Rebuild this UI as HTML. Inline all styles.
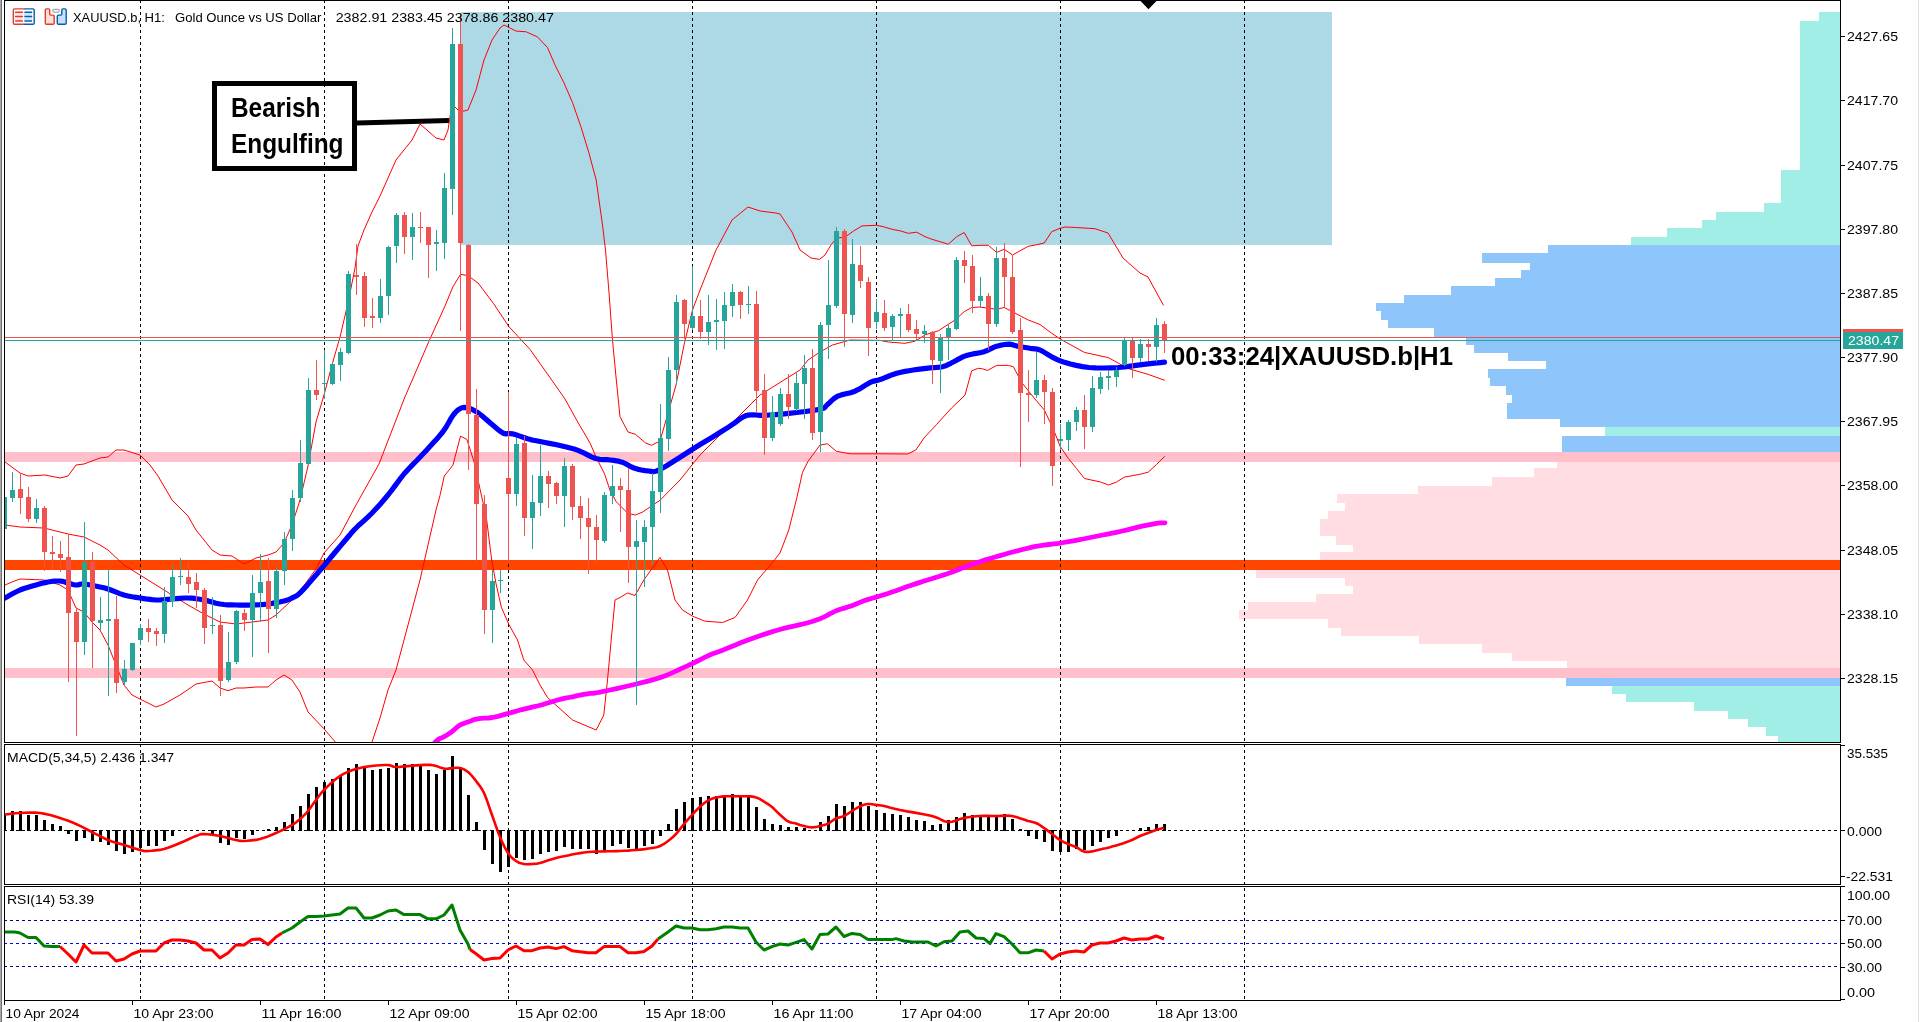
<!DOCTYPE html>
<html><head><meta charset="utf-8"><title>XAUUSD.b H1</title>
<style>html,body{margin:0;padding:0;background:#fff;overflow:hidden;width:1919px;height:1022px}</style>
</head><body><svg width="1919" height="1022" viewBox="0 0 1919 1022" style="display:block;will-change:transform;font-family:'Liberation Sans', sans-serif"><rect x="0" y="0" width="1919" height="1022" fill="#fff" />
<rect x="0" y="0" width="1" height="1022" fill="#a8a8a8" />
<rect x="1" y="0" width="1" height="1022" fill="#6e6e6e" />
<rect x="1918" y="0" width="1" height="1022" fill="#e0e0e0" />
<defs><clipPath id="cm"><rect x="5" y="1" width="1835" height="741"/></clipPath><clipPath id="cmacd"><rect x="5" y="745" width="1835" height="139"/></clipPath><clipPath id="crsi"><rect x="5" y="887" width="1835" height="113"/></clipPath></defs>
<rect x="461" y="12" width="871" height="233" fill="#add8e6" />
<rect x="1819" y="12" width="21" height="233" fill="#a0eee6" />
<rect x="1800" y="21" width="40" height="224" fill="#a0eee6" />
<rect x="1781" y="170" width="59" height="75" fill="#a0eee6" />
<rect x="1764" y="203" width="76" height="42" fill="#a0eee6" />
<rect x="1716" y="212" width="124" height="33" fill="#a0eee6" />
<rect x="1702" y="220" width="138" height="25" fill="#a0eee6" />
<rect x="1667" y="228" width="173" height="17" fill="#a0eee6" />
<rect x="1631" y="237" width="209" height="8" fill="#a0eee6" />
<rect x="1548" y="245" width="292" height="8" fill="#8ec6fc" />
<rect x="1482" y="253" width="358" height="10" fill="#8ec6fc" />
<rect x="1530" y="263" width="310" height="7" fill="#8ec6fc" />
<rect x="1521" y="270" width="319" height="8" fill="#8ec6fc" />
<rect x="1495" y="278" width="345" height="8" fill="#8ec6fc" />
<rect x="1451" y="286" width="389" height="9" fill="#8ec6fc" />
<rect x="1404" y="295" width="436" height="8" fill="#8ec6fc" />
<rect x="1376" y="303" width="464" height="8" fill="#8ec6fc" />
<rect x="1381" y="311" width="459" height="9" fill="#8ec6fc" />
<rect x="1388" y="320" width="452" height="8" fill="#8ec6fc" />
<rect x="1434" y="328" width="406" height="9" fill="#8ec6fc" />
<rect x="1466" y="337" width="374" height="8" fill="#8ec6fc" />
<rect x="1474" y="345" width="366" height="8" fill="#8ec6fc" />
<rect x="1508" y="353" width="332" height="8" fill="#8ec6fc" />
<rect x="1546" y="361" width="294" height="8" fill="#8ec6fc" />
<rect x="1488" y="369" width="352" height="9" fill="#8ec6fc" />
<rect x="1490" y="378" width="350" height="8" fill="#8ec6fc" />
<rect x="1506" y="386" width="334" height="9" fill="#8ec6fc" />
<rect x="1512" y="395" width="328" height="8" fill="#8ec6fc" />
<rect x="1507" y="403" width="333" height="16" fill="#8ec6fc" />
<rect x="1560" y="419" width="280" height="8" fill="#8ec6fc" />
<rect x="1605" y="427" width="235" height="9" fill="#a0eee6" />
<rect x="1562" y="436" width="278" height="16" fill="#8ec6fc" />
<rect x="1560" y="452" width="280" height="9" fill="#ffdde3" />
<rect x="1557" y="461" width="283" height="7" fill="#ffdde3" />
<rect x="1534" y="468" width="306" height="9" fill="#ffdde3" />
<rect x="1492" y="477" width="348" height="9" fill="#ffdde3" />
<rect x="1418" y="486" width="422" height="8" fill="#ffdde3" />
<rect x="1337" y="494" width="503" height="9" fill="#ffdde3" />
<rect x="1345" y="503" width="495" height="8" fill="#ffdde3" />
<rect x="1328" y="511" width="512" height="8" fill="#ffdde3" />
<rect x="1320" y="519" width="520" height="17" fill="#ffdde3" />
<rect x="1336" y="536" width="504" height="9" fill="#ffdde3" />
<rect x="1353" y="545" width="487" height="7" fill="#ffdde3" />
<rect x="1320" y="552" width="520" height="8" fill="#ffdde3" />
<rect x="1320" y="560" width="520" height="10" fill="#ffdde3" />
<rect x="1256" y="570" width="584" height="8" fill="#ffdde3" />
<rect x="1345" y="578" width="495" height="8" fill="#ffdde3" />
<rect x="1353" y="586" width="487" height="8" fill="#ffdde3" />
<rect x="1316" y="594" width="524" height="8" fill="#ffdde3" />
<rect x="1248" y="602" width="592" height="8" fill="#ffdde3" />
<rect x="1239" y="610" width="601" height="9" fill="#ffdde3" />
<rect x="1328" y="619" width="512" height="9" fill="#ffdde3" />
<rect x="1341" y="628" width="499" height="8" fill="#ffdde3" />
<rect x="1419" y="636" width="421" height="8" fill="#ffdde3" />
<rect x="1482" y="644" width="358" height="9" fill="#ffdde3" />
<rect x="1512" y="653" width="328" height="8" fill="#ffdde3" />
<rect x="1567" y="661" width="273" height="7" fill="#ffdde3" />
<rect x="1566" y="668" width="274" height="10" fill="#ffdde3" />
<rect x="1566" y="678" width="274" height="8" fill="#8ec6fc" />
<rect x="1612" y="686" width="228" height="8" fill="#a0eee6" />
<rect x="1626" y="694" width="214" height="8" fill="#a0eee6" />
<rect x="1694" y="702" width="146" height="9" fill="#a0eee6" />
<rect x="1728" y="711" width="112" height="8" fill="#a0eee6" />
<rect x="1748" y="719" width="92" height="8" fill="#a0eee6" />
<rect x="1766" y="727" width="74" height="9" fill="#a0eee6" />
<rect x="1778" y="736" width="62" height="6" fill="#a0eee6" />
<rect x="4" y="452" width="1836" height="10" fill="#ffc0cb" />
<rect x="4" y="668" width="1836" height="10" fill="#ffc0cb" />
<rect x="4" y="560" width="1836" height="10" fill="#ff4500" />
<clipPath id="cgrid"><rect x="0" y="1" width="1919" height="741"/><rect x="0" y="745" width="1919" height="139"/><rect x="0" y="887" width="1919" height="113"/></clipPath>
<g clip-path="url(#cgrid)">
<line x1="140.5" y1="0" x2="140.5" y2="1002" stroke="#000" stroke-width="1" stroke-dasharray="3 3" shape-rendering="crispEdges"/>
<line x1="324.5" y1="0" x2="324.5" y2="1002" stroke="#000" stroke-width="1" stroke-dasharray="3 3" shape-rendering="crispEdges"/>
<line x1="508.5" y1="0" x2="508.5" y2="1002" stroke="#000" stroke-width="1" stroke-dasharray="3 3" shape-rendering="crispEdges"/>
<line x1="692.5" y1="0" x2="692.5" y2="1002" stroke="#000" stroke-width="1" stroke-dasharray="3 3" shape-rendering="crispEdges"/>
<line x1="876.5" y1="0" x2="876.5" y2="1002" stroke="#000" stroke-width="1" stroke-dasharray="3 3" shape-rendering="crispEdges"/>
<line x1="1060.5" y1="0" x2="1060.5" y2="1002" stroke="#000" stroke-width="1" stroke-dasharray="3 3" shape-rendering="crispEdges"/>
<line x1="1244.5" y1="0" x2="1244.5" y2="1002" stroke="#000" stroke-width="1" stroke-dasharray="3 3" shape-rendering="crispEdges"/>
</g>
<g clip-path="url(#cm)" fill="none" stroke-linejoin="round" stroke-linecap="round">
<polyline points="5.0,462.0 20.0,473.0 28.0,476.0 45.0,475.0 60.0,478.0 68.0,476.0 76.0,465.0 84.0,464.0 100.0,458.0 108.0,457.0 116.0,450.0 124.0,450.0 140.0,455.0 150.0,465.0 158.0,476.0 172.0,500.0 188.0,516.0 196.0,530.0 212.0,550.0 220.0,555.0 232.0,556.0 244.0,564.0 256.0,558.0 268.0,555.0 276.0,552.0 284.0,543.0 292.0,525.0 300.0,500.0 308.0,466.0 316.0,422.0 324.0,395.0 332.0,365.0 340.0,337.0 348.0,303.0 355.0,268.0 358.0,246.0 364.0,230.0 372.0,212.0 380.0,196.0 388.0,178.0 396.0,160.0 404.0,150.0 412.0,140.0 420.0,124.0 428.0,131.0 436.0,138.0 444.0,140.0 448.0,130.0 452.0,104.0 460.0,112.0 468.0,110.0 476.0,90.0 484.0,60.0 492.0,40.0 500.0,28.0 504.0,25.0 508.0,27.0 516.0,31.0 526.2,31.8 537.5,37.0 547.5,47.5 555.0,65.0 563.8,82.5 572.5,102.5 581.2,127.5 588.8,152.5 596.2,180.0 602.5,225.0 605.5,250.0 608.8,290.0 612.5,340.0 616.3,380.0 620.0,416.7 628.0,432.0 635.4,434.3 645.6,443.0 651.5,445.3 660.0,441.0 667.5,415.0 676.0,385.0 684.0,345.0 692.5,310.0 700.0,290.0 716.0,250.0 732.0,220.0 748.0,207.0 760.0,211.0 776.0,213.0 780.0,214.0 792.0,232.0 800.0,250.0 811.0,258.0 819.4,259.4 825.0,255.0 830.8,245.2 836.5,238.0 845.0,237.2 853.5,231.0 862.0,225.9 876.2,225.3 883.3,226.7 891.7,229.2 900.0,230.8 908.3,233.3 916.7,232.2 925.0,236.7 931.7,239.2 940.0,241.7 948.3,244.2 956.7,236.7 964.2,232.5 971.7,245.8 980.0,245.3 988.3,245.3 996.7,252.5 1004.2,249.2 1012.5,255.0 1020.0,250.8 1028.3,246.3 1036.7,244.7 1044.2,243.0 1051.7,231.7 1060.0,228.3 1065.0,227.0 1076.7,227.5 1088.3,228.3 1095.0,228.7 1108.0,233.0 1123.0,258.0 1140.0,273.0 1148.0,277.0 1163.3,305.0" stroke="#ff0000" stroke-width="1"/>
<polyline points="5.0,525.0 20.0,527.0 44.0,528.0 68.0,534.0 84.0,537.0 100.0,545.0 108.0,550.0 124.0,565.0 140.0,575.0 156.0,585.0 172.0,595.0 188.0,605.0 204.0,614.0 220.0,622.0 236.0,624.0 252.0,622.0 268.0,620.0 276.0,615.0 292.0,600.0 300.0,591.0 316.0,569.0 324.0,553.0 340.0,535.0 356.0,505.0 379.0,464.0 404.5,398.0 428.7,341.8 445.0,306.0 452.8,287.0 460.5,274.4 468.0,275.6 478.0,283.0 493.6,303.6 508.8,326.5 530.0,349.4 551.7,380.0 565.0,399.0 578.0,422.5 590.0,443.0 597.0,459.0 604.6,474.0 610.4,491.5 616.3,501.8 628.0,513.5 635.4,515.0 642.7,512.0 651.5,506.0 660.0,500.3 680.0,480.0 700.0,455.0 720.0,435.0 740.0,415.0 760.0,395.0 776.0,385.0 800.0,370.0 808.0,360.0 820.0,352.0 832.5,345.0 850.0,340.0 880.0,340.4 888.3,342.0 905.0,343.3 915.0,341.2 925.8,334.6 938.3,330.8 955.0,320.0 964.2,311.7 971.7,307.5 980.0,307.0 988.3,308.3 996.7,309.2 1004.2,307.5 1012.5,311.7 1020.0,315.8 1028.3,320.0 1040.0,324.5 1051.7,333.3 1060.4,339.1 1084.4,352.4 1108.5,357.7 1128.0,368.5 1148.2,374.4 1164.5,380.2" stroke="#ff0000" stroke-width="1"/>
<polyline points="5.0,585.0 12.0,582.0 20.0,579.0 44.0,580.0 60.0,585.0 68.0,590.0 76.0,608.0 84.0,612.0 92.0,622.0 100.0,630.0 108.0,645.0 116.0,665.0 124.0,685.0 132.0,695.0 140.0,699.0 156.0,707.0 164.0,704.0 180.0,695.0 196.0,684.0 212.0,681.0 220.0,688.0 228.0,690.7 236.0,688.0 244.0,688.0 256.0,687.0 268.0,687.0 276.0,680.0 284.0,675.0 292.0,680.0 300.0,692.0 308.0,712.0 323.5,728.3 335.3,742.0 350.0,760.0 365.0,760.0 372.0,742.0 380.0,718.0 388.0,690.0 396.0,670.0 404.0,640.0 412.0,610.0 420.0,580.0 428.0,545.0 436.0,510.0 440.0,495.3 444.3,476.0 452.9,465.2 460.5,436.1 466.9,439.4 474.4,463.0 480.9,493.2 486.3,516.9 491.7,560.0 496.0,583.6 501.4,607.3 508.9,624.5 517.5,640.0 523.8,660.0 532.5,670.0 540.0,685.0 547.5,697.5 572.5,720.0 596.2,730.0 603.8,715.0 607.5,680.0 611.2,640.0 615.0,600.0 620.0,597.5 627.5,593.0 635.0,595.5 643.8,580.0 660.0,557.5 667.5,570.0 675.0,600.0 682.5,610.0 692.5,616.2 705.0,621.2 722.5,622.5 735.0,617.5 747.5,600.0 757.5,580.0 772.5,562.5 780.0,553.0 788.8,529.9 797.0,497.0 802.5,472.3 808.0,461.4 820.0,445.0 827.5,443.8 836.2,451.2 850.0,453.8 880.0,453.8 907.6,454.0 915.8,450.0 924.0,438.0 936.4,424.7 951.5,408.0 960.0,400.0 965.0,395.0 971.7,370.8 978.3,368.3 982.5,368.8 987.5,370.4 996.7,365.4 1008.3,365.4 1013.3,366.7 1021.7,382.5 1035.8,400.0 1044.3,410.0 1052.5,427.2 1060.4,446.8 1068.4,458.5 1076.4,468.3 1084.4,478.5 1100.5,482.0 1108.5,485.0 1116.5,482.0 1124.5,477.1 1140.4,474.2 1148.2,472.2 1156.6,464.4 1164.5,456.6" stroke="#ff0000" stroke-width="1"/>
<polyline points="420.0,760.0 423.1,756.3 427.6,750.9 432.3,745.4 436.2,741.2 439.0,739.0 441.2,737.9 443.1,737.2 445.0,736.2 447.0,735.0 448.8,733.8 450.7,732.6 452.5,731.2 454.3,729.7 456.1,728.0 457.9,726.4 460.0,725.0 462.4,723.9 465.0,722.9 467.6,722.0 470.0,721.2 471.9,720.5 473.4,719.8 475.2,719.3 477.5,718.8 480.7,718.4 484.5,718.2 488.5,718.0 492.5,717.5 496.5,716.7 500.5,715.6 504.7,714.4 508.8,713.2 512.8,712.1 516.9,711.0 520.9,709.8 525.0,708.8 529.1,707.8 533.1,706.9 537.2,706.0 541.2,705.0 545.3,703.8 549.5,702.5 553.5,701.2 557.5,700.0 561.3,699.1 565.1,698.2 568.8,697.5 572.5,696.8 576.3,695.9 580.2,695.1 583.9,694.4 587.5,693.8 590.2,693.4 592.4,693.3 595.3,693.0 600.0,692.2 607.8,690.5 617.7,688.3 627.9,686.0 636.4,684.0 642.7,682.4 647.9,681.1 652.4,679.9 656.4,678.7 659.9,677.6 662.6,676.7 665.2,675.8 668.1,674.6 671.5,673.1 675.2,671.4 678.9,669.7 682.2,668.1 685.0,666.9 687.4,665.9 689.8,664.8 692.8,663.4 696.5,661.5 700.8,659.3 705.1,657.1 709.2,655.2 712.6,653.8 715.7,652.7 719.1,651.5 723.3,649.9 728.6,647.7 734.8,645.2 741.3,642.5 748.0,639.9 754.9,637.4 762.2,634.9 769.4,632.6 776.2,630.5 782.7,628.7 789.1,627.2 795.0,625.9 800.0,624.7 803.9,623.7 806.9,623.0 809.5,622.3 812.2,621.5 815.1,620.5 817.9,619.5 820.8,618.4 823.7,617.1 826.7,615.6 829.7,613.9 832.9,612.3 836.3,610.7 840.2,609.3 844.4,608.1 848.5,606.8 852.3,605.6 855.5,604.3 858.3,603.1 861.0,601.9 863.8,600.8 866.6,599.9 869.3,599.1 872.1,598.3 875.3,597.4 879.0,596.3 883.0,595.0 887.2,593.7 891.3,592.3 895.3,590.9 899.3,589.5 903.4,588.0 907.4,586.6 911.4,585.2 915.4,583.9 919.4,582.6 923.4,581.3 927.5,580.0 931.6,578.8 935.6,577.5 939.5,576.3 943.1,575.1 946.6,574.0 950.0,572.8 953.2,571.7 956.1,570.6 958.8,569.5 961.6,568.3 964.7,567.1 968.3,565.8 972.2,564.3 976.4,562.9 980.7,561.4 985.3,559.9 990.1,558.5 995.1,557.0 1000.0,555.6 1004.9,554.2 1009.8,552.8 1014.7,551.5 1019.6,550.2 1024.5,549.0 1029.3,547.8 1034.2,546.7 1039.1,545.8 1044.0,545.1 1048.9,544.5 1053.8,543.9 1058.7,543.3 1063.6,542.5 1068.5,541.7 1073.4,540.8 1078.3,539.9 1083.2,539.0 1088.0,538.0 1092.9,537.0 1097.8,536.0 1102.7,535.0 1107.6,534.1 1112.5,533.1 1117.4,532.1 1122.3,531.0 1127.2,529.8 1132.1,528.6 1137.0,527.4 1142.2,526.2 1147.5,525.1 1152.5,524.1 1156.6,523.3 1159.7,522.9 1162.0,522.8 1163.8,522.8 1165.0,522.8" stroke="#ff00ff" stroke-width="4.8"/>
<polyline points="5.0,598.0 7.7,596.5 11.5,594.3 15.8,592.0 20.0,590.0 24.0,588.5 28.2,587.2 32.3,586.0 36.0,585.0 39.3,584.1 42.2,583.2 45.1,582.6 48.0,582.0 51.1,581.5 54.2,581.2 57.3,581.0 60.0,581.0 62.3,581.3 64.2,581.8 66.1,582.4 68.0,583.0 70.0,583.6 72.0,584.2 74.0,584.7 76.0,585.0 77.8,584.9 79.5,584.4 81.4,584.0 84.0,584.0 87.6,584.5 92.0,585.3 96.4,586.2 100.0,587.0 102.4,587.5 104.0,587.8 105.6,588.2 108.0,589.0 111.4,590.3 115.5,591.9 119.8,593.6 124.0,595.0 128.0,596.0 132.0,596.8 136.0,597.4 140.0,598.0 144.0,598.6 148.0,599.2 152.0,599.7 156.0,600.0 160.0,600.0 164.0,599.7 168.0,599.3 172.0,599.0 176.0,598.7 180.0,598.3 184.0,598.0 188.0,598.0 192.0,598.2 196.0,598.7 200.0,599.3 204.0,600.0 208.0,600.9 212.0,602.1 216.0,603.2 220.0,604.0 224.0,604.5 228.0,604.8 232.0,604.9 236.0,605.0 240.0,605.1 244.0,605.1 248.0,605.1 252.0,605.0 256.0,604.9 260.0,604.7 264.0,604.4 268.0,604.0 272.2,603.4 276.5,602.6 280.6,601.8 284.0,601.0 286.6,600.3 288.5,599.6 290.2,598.9 292.0,598.0 293.8,597.2 295.5,596.4 297.4,595.2 300.0,593.0 303.4,589.4 307.5,584.9 311.8,579.9 316.0,575.0 320.0,570.3 324.0,565.6 328.0,560.8 332.0,556.0 336.2,551.0 340.5,545.9 344.6,541.0 348.0,537.0 350.4,534.2 352.0,532.2 353.6,530.4 356.0,528.0 359.4,524.7 363.5,521.1 367.8,517.1 372.0,513.0 376.0,508.8 380.0,504.4 384.0,499.8 388.0,495.0 392.0,489.9 395.9,484.6 399.9,479.2 404.0,474.0 408.3,469.2 412.7,464.6 417.3,460.0 422.0,455.0 427.2,449.4 432.8,443.3 438.2,437.4 442.7,432.0 446.0,427.2 448.6,422.8 450.7,418.9 452.8,415.6 454.9,413.0 456.8,411.0 458.6,409.5 460.5,408.4 462.3,407.7 464.1,407.4 465.9,407.6 468.0,408.0 470.3,408.7 472.7,409.7 475.3,411.1 478.3,413.0 481.9,415.8 486.0,419.2 490.0,422.8 493.6,425.8 496.5,428.2 499.1,430.4 501.4,432.1 503.7,433.4 505.8,433.9 507.8,433.7 509.9,433.5 512.5,433.8 515.9,434.7 519.8,436.1 523.8,437.5 527.5,438.8 530.6,439.6 533.3,440.2 536.3,440.7 540.0,441.5 545.0,442.5 550.8,443.6 556.7,444.8 562.0,446.0 566.4,447.0 570.3,448.0 574.1,449.0 578.1,450.4 582.5,452.3 587.0,454.6 591.5,456.9 595.7,458.5 599.6,459.3 603.4,459.6 607.0,459.7 610.4,460.0 613.6,460.4 616.5,460.8 619.3,461.4 622.2,462.2 625.1,463.5 627.9,465.0 630.8,466.7 633.9,468.0 637.4,469.1 641.3,470.0 645.1,470.6 648.6,471.0 651.2,471.4 653.2,471.7 655.7,471.3 660.0,469.5 666.6,465.7 674.9,460.5 684.0,454.7 692.9,449.0 702.1,443.3 711.9,437.4 721.1,431.7 728.5,427.1 733.6,423.7 737.1,421.1 739.7,419.1 742.2,417.5 744.5,416.3 746.3,415.5 748.1,415.1 750.4,414.8 753.2,414.8 756.2,415.0 759.7,415.3 764.0,415.3 769.3,415.0 775.3,414.6 781.9,414.1 788.8,413.4 796.7,412.5 805.5,411.5 813.7,410.4 820.0,409.3 823.5,408.2 825.1,407.2 826.0,406.0 827.5,404.5 829.6,402.6 831.9,400.4 834.4,398.2 837.5,396.2 841.4,394.9 845.9,393.8 850.6,392.7 855.0,391.2 859.0,389.2 863.0,386.7 866.7,384.4 870.0,382.5 872.7,381.4 874.9,380.9 877.1,380.4 880.0,379.6 883.7,378.2 887.9,376.5 892.4,374.7 896.7,373.3 900.9,372.2 905.0,371.4 909.1,370.7 913.3,370.0 917.6,369.4 921.9,368.8 926.1,368.3 930.0,367.9 933.5,367.6 936.8,367.4 939.8,367.1 942.5,366.7 944.8,366.1 946.6,365.3 948.5,364.4 950.8,363.3 953.7,361.8 957.0,359.9 960.4,358.1 963.3,356.7 965.6,355.8 967.5,355.2 969.4,354.7 971.7,354.2 974.5,353.6 977.7,353.1 981.0,352.5 984.2,351.7 987.3,350.5 990.5,348.9 993.6,347.4 996.7,346.2 999.9,345.4 1003.2,344.8 1006.4,344.3 1009.2,344.2 1011.5,344.4 1013.4,345.0 1015.2,345.6 1017.5,346.2 1020.4,346.8 1023.6,347.3 1027.0,347.8 1030.0,348.3 1032.6,348.6 1035.0,348.9 1037.4,349.2 1040.0,350.0 1042.8,351.4 1045.6,353.1 1048.6,355.0 1051.7,356.8 1054.8,358.3 1057.8,359.8 1061.2,361.2 1065.4,362.6 1070.4,364.0 1076.2,365.4 1082.4,366.6 1088.9,367.5 1096.0,367.9 1103.6,368.0 1111.2,367.8 1118.3,367.5 1124.6,367.0 1130.5,366.2 1136.1,365.4 1141.8,364.6 1148.1,363.9 1154.6,363.2 1160.4,362.6 1164.5,362.2" stroke="#0000ff" stroke-width="5.2"/>
</g>
<g clip-path="url(#cm)" shape-rendering="crispEdges">
<rect x="4" y="497" width="1" height="33" fill="#26a69a" />
<rect x="2" y="497" width="5" height="32" fill="#26a69a" />
<rect x="12" y="472" width="1" height="30" fill="#26a69a" />
<rect x="10" y="490" width="5" height="8" fill="#26a69a" />
<rect x="20" y="474" width="1" height="40" fill="#ef5350" />
<rect x="18" y="489" width="5" height="9" fill="#ef5350" />
<rect x="28" y="487" width="1" height="35" fill="#ef5350" />
<rect x="26" y="497" width="5" height="22" fill="#ef5350" />
<rect x="36" y="499" width="1" height="24" fill="#26a69a" />
<rect x="34" y="508" width="5" height="11" fill="#26a69a" />
<rect x="44" y="506" width="1" height="65" fill="#ef5350" />
<rect x="42" y="508" width="5" height="44" fill="#ef5350" />
<rect x="52" y="536" width="1" height="34" fill="#ef5350" />
<rect x="50" y="552" width="5" height="2" fill="#ef5350" />
<rect x="60" y="541" width="1" height="31" fill="#ef5350" />
<rect x="58" y="554" width="5" height="4" fill="#ef5350" />
<rect x="68" y="534" width="1" height="148" fill="#ef5350" />
<rect x="66" y="557" width="5" height="56" fill="#ef5350" />
<rect x="76" y="608" width="1" height="128" fill="#ef5350" />
<rect x="74" y="612" width="5" height="30" fill="#ef5350" />
<rect x="84" y="522" width="1" height="133" fill="#26a69a" />
<rect x="82" y="562" width="5" height="80" fill="#26a69a" />
<rect x="92" y="552" width="1" height="116" fill="#ef5350" />
<rect x="90" y="562" width="5" height="59" fill="#ef5350" />
<rect x="100" y="597" width="1" height="33" fill="#26a69a" />
<rect x="98" y="620" width="5" height="3" fill="#26a69a" />
<rect x="108" y="569" width="1" height="127" fill="#26a69a" />
<rect x="106" y="619" width="5" height="2" fill="#26a69a" />
<rect x="116" y="596" width="1" height="97" fill="#ef5350" />
<rect x="114" y="619" width="5" height="64" fill="#ef5350" />
<rect x="124" y="660" width="1" height="26" fill="#26a69a" />
<rect x="122" y="669" width="5" height="13" fill="#26a69a" />
<rect x="132" y="643" width="1" height="28" fill="#26a69a" />
<rect x="130" y="643" width="5" height="27" fill="#26a69a" />
<rect x="140" y="624" width="1" height="21" fill="#26a69a" />
<rect x="138" y="628" width="5" height="12" fill="#26a69a" />
<rect x="148" y="619" width="1" height="23" fill="#ef5350" />
<rect x="146" y="628" width="5" height="4" fill="#ef5350" />
<rect x="156" y="628" width="1" height="18" fill="#ef5350" />
<rect x="154" y="631" width="5" height="3" fill="#ef5350" />
<rect x="164" y="587" width="1" height="56" fill="#26a69a" />
<rect x="162" y="601" width="5" height="33" fill="#26a69a" />
<rect x="172" y="565" width="1" height="42" fill="#26a69a" />
<rect x="170" y="577" width="5" height="24" fill="#26a69a" />
<rect x="180" y="558" width="1" height="27" fill="#26a69a" />
<rect x="178" y="576" width="5" height="1" fill="#26a69a" />
<rect x="188" y="563" width="1" height="30" fill="#ef5350" />
<rect x="186" y="577" width="5" height="7" fill="#ef5350" />
<rect x="196" y="573" width="1" height="35" fill="#ef5350" />
<rect x="194" y="582" width="5" height="8" fill="#ef5350" />
<rect x="204" y="588" width="1" height="56" fill="#ef5350" />
<rect x="202" y="590" width="5" height="38" fill="#ef5350" />
<rect x="212" y="597" width="1" height="37" fill="#26a69a" />
<rect x="210" y="625" width="5" height="1" fill="#26a69a" />
<rect x="220" y="615" width="1" height="81" fill="#ef5350" />
<rect x="218" y="625" width="5" height="56" fill="#ef5350" />
<rect x="228" y="632" width="1" height="50" fill="#26a69a" />
<rect x="226" y="662" width="5" height="18" fill="#26a69a" />
<rect x="236" y="610" width="1" height="54" fill="#26a69a" />
<rect x="234" y="611" width="5" height="51" fill="#26a69a" />
<rect x="244" y="609" width="1" height="22" fill="#ef5350" />
<rect x="242" y="613" width="5" height="7" fill="#ef5350" />
<rect x="252" y="575" width="1" height="82" fill="#26a69a" />
<rect x="250" y="593" width="5" height="27" fill="#26a69a" />
<rect x="260" y="554" width="1" height="68" fill="#26a69a" />
<rect x="258" y="582" width="5" height="11" fill="#26a69a" />
<rect x="268" y="558" width="1" height="95" fill="#ef5350" />
<rect x="266" y="581" width="5" height="28" fill="#ef5350" />
<rect x="276" y="567" width="1" height="51" fill="#26a69a" />
<rect x="274" y="571" width="5" height="38" fill="#26a69a" />
<rect x="284" y="532" width="1" height="53" fill="#26a69a" />
<rect x="282" y="539" width="5" height="32" fill="#26a69a" />
<rect x="292" y="490" width="1" height="61" fill="#26a69a" />
<rect x="290" y="498" width="5" height="41" fill="#26a69a" />
<rect x="300" y="440" width="1" height="62" fill="#26a69a" />
<rect x="298" y="463" width="5" height="35" fill="#26a69a" />
<rect x="308" y="378" width="1" height="87" fill="#26a69a" />
<rect x="306" y="390" width="5" height="74" fill="#26a69a" />
<rect x="316" y="360" width="1" height="40" fill="#ef5350" />
<rect x="314" y="390" width="5" height="5" fill="#ef5350" />
<rect x="324" y="350" width="1" height="49" fill="#26a69a" />
<rect x="322" y="383" width="5" height="1" fill="#26a69a" />
<rect x="332" y="363" width="1" height="22" fill="#26a69a" />
<rect x="330" y="364" width="5" height="20" fill="#26a69a" />
<rect x="340" y="348" width="1" height="33" fill="#26a69a" />
<rect x="338" y="352" width="5" height="13" fill="#26a69a" />
<rect x="348" y="271" width="1" height="83" fill="#26a69a" />
<rect x="346" y="274" width="5" height="79" fill="#26a69a" />
<rect x="356" y="244" width="1" height="51" fill="#ef5350" />
<rect x="354" y="275" width="5" height="2" fill="#ef5350" />
<rect x="364" y="272" width="1" height="55" fill="#ef5350" />
<rect x="362" y="276" width="5" height="42" fill="#ef5350" />
<rect x="372" y="298" width="1" height="30" fill="#ef5350" />
<rect x="370" y="316" width="5" height="2" fill="#ef5350" />
<rect x="380" y="279" width="1" height="44" fill="#26a69a" />
<rect x="378" y="296" width="5" height="22" fill="#26a69a" />
<rect x="388" y="246" width="1" height="69" fill="#26a69a" />
<rect x="386" y="247" width="5" height="49" fill="#26a69a" />
<rect x="396" y="213" width="1" height="50" fill="#26a69a" />
<rect x="394" y="215" width="5" height="31" fill="#26a69a" />
<rect x="404" y="212" width="1" height="42" fill="#ef5350" />
<rect x="402" y="215" width="5" height="22" fill="#ef5350" />
<rect x="412" y="213" width="1" height="47" fill="#26a69a" />
<rect x="410" y="227" width="5" height="10" fill="#26a69a" />
<rect x="420" y="212" width="1" height="31" fill="#ef5350" />
<rect x="418" y="227" width="5" height="1" fill="#ef5350" />
<rect x="428" y="227" width="1" height="51" fill="#ef5350" />
<rect x="426" y="227" width="5" height="18" fill="#ef5350" />
<rect x="436" y="230" width="1" height="41" fill="#26a69a" />
<rect x="434" y="242" width="5" height="2" fill="#26a69a" />
<rect x="444" y="173" width="1" height="86" fill="#26a69a" />
<rect x="442" y="188" width="5" height="55" fill="#26a69a" />
<rect x="452" y="28" width="1" height="187" fill="#26a69a" />
<rect x="450" y="44" width="5" height="145" fill="#26a69a" />
<rect x="460" y="13" width="1" height="318" fill="#ef5350" />
<rect x="458" y="44" width="5" height="199" fill="#ef5350" />
<rect x="468" y="244" width="1" height="226" fill="#ef5350" />
<rect x="466" y="245" width="5" height="169" fill="#ef5350" />
<rect x="476" y="389" width="1" height="173" fill="#ef5350" />
<rect x="474" y="415" width="5" height="89" fill="#ef5350" />
<rect x="484" y="495" width="1" height="139" fill="#ef5350" />
<rect x="482" y="504" width="5" height="106" fill="#ef5350" />
<rect x="492" y="570" width="1" height="73" fill="#26a69a" />
<rect x="490" y="581" width="5" height="29" fill="#26a69a" />
<rect x="500" y="570" width="1" height="23" fill="#26a69a" />
<rect x="498" y="580" width="5" height="1" fill="#26a69a" />
<rect x="508" y="392" width="1" height="169" fill="#ef5350" />
<rect x="506" y="478" width="5" height="16" fill="#ef5350" />
<rect x="516" y="438" width="1" height="68" fill="#26a69a" />
<rect x="514" y="444" width="5" height="50" fill="#26a69a" />
<rect x="524" y="436" width="1" height="100" fill="#ef5350" />
<rect x="522" y="443" width="5" height="75" fill="#ef5350" />
<rect x="532" y="475" width="1" height="74" fill="#26a69a" />
<rect x="530" y="502" width="5" height="16" fill="#26a69a" />
<rect x="540" y="445" width="1" height="71" fill="#26a69a" />
<rect x="538" y="476" width="5" height="27" fill="#26a69a" />
<rect x="548" y="471" width="1" height="37" fill="#ef5350" />
<rect x="546" y="476" width="5" height="8" fill="#ef5350" />
<rect x="556" y="482" width="1" height="22" fill="#ef5350" />
<rect x="554" y="483" width="5" height="13" fill="#ef5350" />
<rect x="564" y="458" width="1" height="69" fill="#26a69a" />
<rect x="562" y="466" width="5" height="30" fill="#26a69a" />
<rect x="572" y="464" width="1" height="56" fill="#ef5350" />
<rect x="570" y="466" width="5" height="41" fill="#ef5350" />
<rect x="580" y="496" width="1" height="43" fill="#ef5350" />
<rect x="578" y="506" width="5" height="12" fill="#ef5350" />
<rect x="588" y="498" width="1" height="76" fill="#ef5350" />
<rect x="586" y="518" width="5" height="9" fill="#ef5350" />
<rect x="596" y="515" width="1" height="48" fill="#ef5350" />
<rect x="594" y="527" width="5" height="13" fill="#ef5350" />
<rect x="604" y="492" width="1" height="51" fill="#26a69a" />
<rect x="602" y="495" width="5" height="46" fill="#26a69a" />
<rect x="612" y="465" width="1" height="39" fill="#26a69a" />
<rect x="610" y="486" width="5" height="10" fill="#26a69a" />
<rect x="620" y="478" width="1" height="54" fill="#ef5350" />
<rect x="618" y="486" width="5" height="4" fill="#ef5350" />
<rect x="628" y="468" width="1" height="115" fill="#ef5350" />
<rect x="626" y="490" width="5" height="57" fill="#ef5350" />
<rect x="636" y="520" width="1" height="185" fill="#26a69a" />
<rect x="634" y="541" width="5" height="6" fill="#26a69a" />
<rect x="644" y="520" width="1" height="67" fill="#26a69a" />
<rect x="642" y="527" width="5" height="15" fill="#26a69a" />
<rect x="652" y="473" width="1" height="92" fill="#26a69a" />
<rect x="650" y="491" width="5" height="36" fill="#26a69a" />
<rect x="660" y="404" width="1" height="109" fill="#26a69a" />
<rect x="658" y="438" width="5" height="54" fill="#26a69a" />
<rect x="668" y="357" width="1" height="94" fill="#26a69a" />
<rect x="666" y="370" width="5" height="69" fill="#26a69a" />
<rect x="676" y="295" width="1" height="90" fill="#26a69a" />
<rect x="674" y="302" width="5" height="68" fill="#26a69a" />
<rect x="684" y="299" width="1" height="40" fill="#ef5350" />
<rect x="682" y="300" width="5" height="24" fill="#ef5350" />
<rect x="692" y="266" width="1" height="64" fill="#26a69a" />
<rect x="690" y="316" width="5" height="12" fill="#26a69a" />
<rect x="700" y="300" width="1" height="39" fill="#ef5350" />
<rect x="698" y="316" width="5" height="16" fill="#ef5350" />
<rect x="708" y="295" width="1" height="50" fill="#26a69a" />
<rect x="706" y="322" width="5" height="10" fill="#26a69a" />
<rect x="716" y="299" width="1" height="51" fill="#26a69a" />
<rect x="714" y="320" width="5" height="2" fill="#26a69a" />
<rect x="724" y="292" width="1" height="57" fill="#26a69a" />
<rect x="722" y="305" width="5" height="16" fill="#26a69a" />
<rect x="732" y="284" width="1" height="33" fill="#26a69a" />
<rect x="730" y="292" width="5" height="14" fill="#26a69a" />
<rect x="740" y="291" width="1" height="28" fill="#ef5350" />
<rect x="738" y="292" width="5" height="13" fill="#ef5350" />
<rect x="748" y="286" width="1" height="28" fill="#26a69a" />
<rect x="746" y="304" width="5" height="1" fill="#26a69a" />
<rect x="756" y="291" width="1" height="122" fill="#ef5350" />
<rect x="754" y="304" width="5" height="87" fill="#ef5350" />
<rect x="764" y="374" width="1" height="81" fill="#ef5350" />
<rect x="762" y="390" width="5" height="48" fill="#ef5350" />
<rect x="772" y="396" width="1" height="45" fill="#26a69a" />
<rect x="770" y="412" width="5" height="26" fill="#26a69a" />
<rect x="780" y="388" width="1" height="38" fill="#26a69a" />
<rect x="778" y="394" width="5" height="30" fill="#26a69a" />
<rect x="788" y="374" width="1" height="45" fill="#ef5350" />
<rect x="786" y="394" width="5" height="13" fill="#ef5350" />
<rect x="796" y="373" width="1" height="38" fill="#26a69a" />
<rect x="794" y="383" width="5" height="26" fill="#26a69a" />
<rect x="804" y="355" width="1" height="64" fill="#26a69a" />
<rect x="802" y="368" width="5" height="16" fill="#26a69a" />
<rect x="812" y="349" width="1" height="91" fill="#ef5350" />
<rect x="810" y="368" width="5" height="65" fill="#ef5350" />
<rect x="820" y="322" width="1" height="130" fill="#26a69a" />
<rect x="818" y="325" width="5" height="107" fill="#26a69a" />
<rect x="828" y="260" width="1" height="99" fill="#26a69a" />
<rect x="826" y="305" width="5" height="20" fill="#26a69a" />
<rect x="836" y="227" width="1" height="81" fill="#26a69a" />
<rect x="834" y="231" width="5" height="75" fill="#26a69a" />
<rect x="844" y="229" width="1" height="118" fill="#ef5350" />
<rect x="842" y="231" width="5" height="83" fill="#ef5350" />
<rect x="852" y="239" width="1" height="84" fill="#26a69a" />
<rect x="850" y="264" width="5" height="51" fill="#26a69a" />
<rect x="860" y="246" width="1" height="42" fill="#ef5350" />
<rect x="858" y="265" width="5" height="16" fill="#ef5350" />
<rect x="868" y="277" width="1" height="79" fill="#ef5350" />
<rect x="866" y="282" width="5" height="46" fill="#ef5350" />
<rect x="876" y="299" width="1" height="30" fill="#26a69a" />
<rect x="874" y="312" width="5" height="10" fill="#26a69a" />
<rect x="884" y="300" width="1" height="31" fill="#ef5350" />
<rect x="882" y="313" width="5" height="15" fill="#ef5350" />
<rect x="892" y="314" width="1" height="27" fill="#26a69a" />
<rect x="890" y="316" width="5" height="11" fill="#26a69a" />
<rect x="900" y="308" width="1" height="30" fill="#26a69a" />
<rect x="898" y="314" width="5" height="2" fill="#26a69a" />
<rect x="908" y="304" width="1" height="28" fill="#ef5350" />
<rect x="906" y="314" width="5" height="16" fill="#ef5350" />
<rect x="916" y="320" width="1" height="21" fill="#ef5350" />
<rect x="914" y="329" width="5" height="5" fill="#ef5350" />
<rect x="924" y="325" width="1" height="18" fill="#26a69a" />
<rect x="922" y="331" width="5" height="3" fill="#26a69a" />
<rect x="932" y="331" width="1" height="53" fill="#ef5350" />
<rect x="930" y="332" width="5" height="28" fill="#ef5350" />
<rect x="940" y="334" width="1" height="59" fill="#26a69a" />
<rect x="938" y="337" width="5" height="24" fill="#26a69a" />
<rect x="948" y="325" width="1" height="35" fill="#26a69a" />
<rect x="946" y="328" width="5" height="9" fill="#26a69a" />
<rect x="956" y="257" width="1" height="73" fill="#26a69a" />
<rect x="954" y="260" width="5" height="69" fill="#26a69a" />
<rect x="964" y="251" width="1" height="32" fill="#ef5350" />
<rect x="962" y="260" width="5" height="6" fill="#ef5350" />
<rect x="972" y="255" width="1" height="58" fill="#ef5350" />
<rect x="970" y="266" width="5" height="35" fill="#ef5350" />
<rect x="980" y="277" width="1" height="31" fill="#26a69a" />
<rect x="978" y="296" width="5" height="5" fill="#26a69a" />
<rect x="988" y="293" width="1" height="57" fill="#ef5350" />
<rect x="986" y="296" width="5" height="28" fill="#ef5350" />
<rect x="996" y="247" width="1" height="80" fill="#26a69a" />
<rect x="994" y="258" width="5" height="66" fill="#26a69a" />
<rect x="1004" y="243" width="1" height="64" fill="#ef5350" />
<rect x="1002" y="258" width="5" height="19" fill="#ef5350" />
<rect x="1012" y="255" width="1" height="79" fill="#ef5350" />
<rect x="1010" y="277" width="5" height="55" fill="#ef5350" />
<rect x="1020" y="318" width="1" height="149" fill="#ef5350" />
<rect x="1018" y="330" width="5" height="63" fill="#ef5350" />
<rect x="1028" y="370" width="1" height="52" fill="#ef5350" />
<rect x="1026" y="393" width="5" height="2" fill="#ef5350" />
<rect x="1036" y="352" width="1" height="46" fill="#26a69a" />
<rect x="1034" y="380" width="5" height="15" fill="#26a69a" />
<rect x="1044" y="375" width="1" height="49" fill="#ef5350" />
<rect x="1042" y="380" width="5" height="12" fill="#ef5350" />
<rect x="1052" y="388" width="1" height="98" fill="#ef5350" />
<rect x="1050" y="392" width="5" height="74" fill="#ef5350" />
<rect x="1060" y="424" width="1" height="26" fill="#26a69a" />
<rect x="1058" y="439" width="5" height="2" fill="#26a69a" />
<rect x="1068" y="420" width="1" height="31" fill="#26a69a" />
<rect x="1066" y="422" width="5" height="18" fill="#26a69a" />
<rect x="1076" y="407" width="1" height="24" fill="#26a69a" />
<rect x="1074" y="410" width="5" height="12" fill="#26a69a" />
<rect x="1084" y="395" width="1" height="54" fill="#ef5350" />
<rect x="1082" y="410" width="5" height="17" fill="#ef5350" />
<rect x="1092" y="376" width="1" height="56" fill="#26a69a" />
<rect x="1090" y="388" width="5" height="39" fill="#26a69a" />
<rect x="1100" y="372" width="1" height="22" fill="#26a69a" />
<rect x="1098" y="377" width="5" height="12" fill="#26a69a" />
<rect x="1108" y="370" width="1" height="20" fill="#26a69a" />
<rect x="1106" y="376" width="5" height="2" fill="#26a69a" />
<rect x="1116" y="367" width="1" height="20" fill="#26a69a" />
<rect x="1114" y="370" width="5" height="7" fill="#26a69a" />
<rect x="1124" y="338" width="1" height="28" fill="#26a69a" />
<rect x="1122" y="340" width="5" height="25" fill="#26a69a" />
<rect x="1132" y="338" width="1" height="40" fill="#ef5350" />
<rect x="1130" y="340" width="5" height="18" fill="#ef5350" />
<rect x="1140" y="339" width="1" height="23" fill="#26a69a" />
<rect x="1138" y="344" width="5" height="14" fill="#26a69a" />
<rect x="1148" y="339" width="1" height="22" fill="#ef5350" />
<rect x="1146" y="344" width="5" height="3" fill="#ef5350" />
<rect x="1156" y="318" width="1" height="44" fill="#26a69a" />
<rect x="1154" y="325" width="5" height="22" fill="#26a69a" />
<rect x="1164" y="321" width="1" height="32" fill="#ef5350" />
<rect x="1162" y="324" width="5" height="17" fill="#ef5350" />
</g>
<rect x="5" y="337" width="1835" height="1" fill="#ef5350" />
<rect x="5" y="340" width="1835" height="1" fill="#26a69a" />
<rect x="212" y="81" width="145" height="5" fill="#000" />
<rect x="212" y="166" width="145" height="5" fill="#000" />
<rect x="212" y="81" width="5" height="90" fill="#000" />
<rect x="352" y="81" width="5" height="90" fill="#000" />
<polyline points="357,123.1 449,120.4" stroke="#000" stroke-width="5" fill="none"/>
<text x="231" y="117.4" font-size="27" fill="#000" font-weight="700" text-anchor="start" textLength="89.5" lengthAdjust="spacingAndGlyphs" >Bearish</text>
<text x="231" y="152.9" font-size="27" fill="#000" font-weight="700" text-anchor="start" textLength="112.5" lengthAdjust="spacingAndGlyphs" >Engulfing</text>
<text x="1171" y="364.5" font-size="25.5" fill="#000" font-weight="700" text-anchor="start" textLength="282" lengthAdjust="spacingAndGlyphs" >00:33:24|XAUUSD.b|H1</text>
<polygon points="1140.5,1 1156.5,1 1148.5,9.3" fill="#000"/>
<g clip-path="url(#cmacd)">
<line x1="4" y1="830.5" x2="1840" y2="830.5" stroke="#000" stroke-width="1" stroke-dasharray="3 3" shape-rendering="crispEdges"/>
<g shape-rendering="crispEdges">
<rect x="3" y="814" width="3" height="17" fill="#000" />
<rect x="11" y="811" width="3" height="20" fill="#000" />
<rect x="19" y="811" width="3" height="20" fill="#000" />
<rect x="27" y="815" width="3" height="16" fill="#000" />
<rect x="35" y="815" width="3" height="16" fill="#000" />
<rect x="43" y="820" width="3" height="11" fill="#000" />
<rect x="51" y="824" width="3" height="7" fill="#000" />
<rect x="59" y="826" width="3" height="5" fill="#000" />
<rect x="67" y="830" width="3" height="4" fill="#000" />
<rect x="75" y="830" width="3" height="11" fill="#000" />
<rect x="83" y="830" width="3" height="8" fill="#000" />
<rect x="91" y="830" width="3" height="11" fill="#000" />
<rect x="99" y="830" width="3" height="12" fill="#000" />
<rect x="107" y="830" width="3" height="15" fill="#000" />
<rect x="115" y="830" width="3" height="21" fill="#000" />
<rect x="123" y="830" width="3" height="24" fill="#000" />
<rect x="131" y="830" width="3" height="22" fill="#000" />
<rect x="139" y="830" width="3" height="18" fill="#000" />
<rect x="147" y="830" width="3" height="16" fill="#000" />
<rect x="155" y="830" width="3" height="16" fill="#000" />
<rect x="163" y="830" width="3" height="11" fill="#000" />
<rect x="171" y="830" width="3" height="6" fill="#000" />
<rect x="211" y="830" width="3" height="6" fill="#000" />
<rect x="219" y="830" width="3" height="13" fill="#000" />
<rect x="227" y="830" width="3" height="15" fill="#000" />
<rect x="235" y="830" width="3" height="8" fill="#000" />
<rect x="243" y="830" width="3" height="9" fill="#000" />
<rect x="251" y="830" width="3" height="5" fill="#000" />
<rect x="267" y="829" width="3" height="2" fill="#000" />
<rect x="275" y="827" width="3" height="4" fill="#000" />
<rect x="283" y="822" width="3" height="9" fill="#000" />
<rect x="291" y="814" width="3" height="17" fill="#000" />
<rect x="299" y="806" width="3" height="25" fill="#000" />
<rect x="307" y="794" width="3" height="37" fill="#000" />
<rect x="315" y="787" width="3" height="44" fill="#000" />
<rect x="323" y="782" width="3" height="49" fill="#000" />
<rect x="331" y="779" width="3" height="52" fill="#000" />
<rect x="339" y="776" width="3" height="55" fill="#000" />
<rect x="347" y="768" width="3" height="63" fill="#000" />
<rect x="355" y="764" width="3" height="67" fill="#000" />
<rect x="363" y="766" width="3" height="65" fill="#000" />
<rect x="371" y="770" width="3" height="61" fill="#000" />
<rect x="379" y="769" width="3" height="62" fill="#000" />
<rect x="387" y="768" width="3" height="63" fill="#000" />
<rect x="395" y="763" width="3" height="68" fill="#000" />
<rect x="403" y="764" width="3" height="67" fill="#000" />
<rect x="411" y="764" width="3" height="67" fill="#000" />
<rect x="419" y="766" width="3" height="65" fill="#000" />
<rect x="427" y="770" width="3" height="61" fill="#000" />
<rect x="435" y="774" width="3" height="57" fill="#000" />
<rect x="443" y="770" width="3" height="61" fill="#000" />
<rect x="451" y="756" width="3" height="75" fill="#000" />
<rect x="459" y="769" width="3" height="62" fill="#000" />
<rect x="467" y="795" width="3" height="36" fill="#000" />
<rect x="475" y="822" width="3" height="9" fill="#000" />
<rect x="483" y="830" width="3" height="20" fill="#000" />
<rect x="491" y="830" width="3" height="34" fill="#000" />
<rect x="499" y="830" width="3" height="42" fill="#000" />
<rect x="507" y="830" width="3" height="37" fill="#000" />
<rect x="515" y="830" width="3" height="28" fill="#000" />
<rect x="523" y="830" width="3" height="30" fill="#000" />
<rect x="531" y="830" width="3" height="29" fill="#000" />
<rect x="539" y="830" width="3" height="24" fill="#000" />
<rect x="547" y="830" width="3" height="22" fill="#000" />
<rect x="555" y="830" width="3" height="21" fill="#000" />
<rect x="563" y="830" width="3" height="17" fill="#000" />
<rect x="571" y="830" width="3" height="19" fill="#000" />
<rect x="579" y="830" width="3" height="19" fill="#000" />
<rect x="587" y="830" width="3" height="19" fill="#000" />
<rect x="595" y="830" width="3" height="24" fill="#000" />
<rect x="603" y="830" width="3" height="21" fill="#000" />
<rect x="611" y="830" width="3" height="16" fill="#000" />
<rect x="619" y="830" width="3" height="14" fill="#000" />
<rect x="627" y="830" width="3" height="18" fill="#000" />
<rect x="635" y="830" width="3" height="20" fill="#000" />
<rect x="643" y="830" width="3" height="16" fill="#000" />
<rect x="651" y="830" width="3" height="14" fill="#000" />
<rect x="659" y="830" width="3" height="6" fill="#000" />
<rect x="667" y="824" width="3" height="7" fill="#000" />
<rect x="675" y="809" width="3" height="22" fill="#000" />
<rect x="683" y="802" width="3" height="29" fill="#000" />
<rect x="691" y="798" width="3" height="33" fill="#000" />
<rect x="699" y="797" width="3" height="34" fill="#000" />
<rect x="707" y="796" width="3" height="35" fill="#000" />
<rect x="715" y="796" width="3" height="35" fill="#000" />
<rect x="723" y="795" width="3" height="36" fill="#000" />
<rect x="731" y="794" width="3" height="37" fill="#000" />
<rect x="739" y="796" width="3" height="35" fill="#000" />
<rect x="747" y="796" width="3" height="35" fill="#000" />
<rect x="755" y="807" width="3" height="24" fill="#000" />
<rect x="763" y="819" width="3" height="12" fill="#000" />
<rect x="771" y="824" width="3" height="7" fill="#000" />
<rect x="779" y="825" width="3" height="6" fill="#000" />
<rect x="787" y="827" width="3" height="4" fill="#000" />
<rect x="795" y="827" width="3" height="4" fill="#000" />
<rect x="803" y="828" width="3" height="3" fill="#000" />
<rect x="819" y="822" width="3" height="9" fill="#000" />
<rect x="827" y="816" width="3" height="15" fill="#000" />
<rect x="835" y="804" width="3" height="27" fill="#000" />
<rect x="843" y="806" width="3" height="25" fill="#000" />
<rect x="851" y="802" width="3" height="29" fill="#000" />
<rect x="859" y="802" width="3" height="29" fill="#000" />
<rect x="867" y="806" width="3" height="25" fill="#000" />
<rect x="875" y="810" width="3" height="21" fill="#000" />
<rect x="883" y="813" width="3" height="18" fill="#000" />
<rect x="891" y="814" width="3" height="17" fill="#000" />
<rect x="899" y="815" width="3" height="16" fill="#000" />
<rect x="907" y="817" width="3" height="14" fill="#000" />
<rect x="915" y="820" width="3" height="11" fill="#000" />
<rect x="923" y="821" width="3" height="10" fill="#000" />
<rect x="931" y="825" width="3" height="6" fill="#000" />
<rect x="939" y="824" width="3" height="7" fill="#000" />
<rect x="947" y="820" width="3" height="11" fill="#000" />
<rect x="955" y="817" width="3" height="14" fill="#000" />
<rect x="963" y="813" width="3" height="18" fill="#000" />
<rect x="971" y="815" width="3" height="16" fill="#000" />
<rect x="979" y="817" width="3" height="14" fill="#000" />
<rect x="987" y="817" width="3" height="14" fill="#000" />
<rect x="995" y="816" width="3" height="15" fill="#000" />
<rect x="1003" y="814" width="3" height="17" fill="#000" />
<rect x="1011" y="819" width="3" height="12" fill="#000" />
<rect x="1019" y="829" width="3" height="2" fill="#000" />
<rect x="1027" y="830" width="3" height="6" fill="#000" />
<rect x="1035" y="830" width="3" height="9" fill="#000" />
<rect x="1043" y="830" width="3" height="12" fill="#000" />
<rect x="1051" y="830" width="3" height="21" fill="#000" />
<rect x="1059" y="830" width="3" height="22" fill="#000" />
<rect x="1067" y="830" width="3" height="22" fill="#000" />
<rect x="1075" y="830" width="3" height="19" fill="#000" />
<rect x="1083" y="830" width="3" height="20" fill="#000" />
<rect x="1091" y="830" width="3" height="16" fill="#000" />
<rect x="1099" y="830" width="3" height="12" fill="#000" />
<rect x="1107" y="830" width="3" height="8" fill="#000" />
<rect x="1115" y="830" width="3" height="6" fill="#000" />
<rect x="1139" y="828" width="3" height="3" fill="#000" />
<rect x="1147" y="827" width="3" height="4" fill="#000" />
<rect x="1155" y="824" width="3" height="7" fill="#000" />
<rect x="1163" y="824" width="3" height="7" fill="#000" />
</g>
<polyline points="5.0,814.5 7.6,814.2 11.2,813.8 15.5,813.3 20.0,813.0 24.6,812.8 29.7,812.6 34.9,812.6 40.0,813.0 45.1,813.9 50.2,815.1 55.3,816.6 60.0,818.0 64.3,819.4 68.2,820.8 72.1,822.3 76.0,824.0 80.0,825.9 84.0,827.9 88.0,830.0 92.0,832.0 96.0,834.1 100.0,836.2 104.0,838.2 108.0,840.0 112.0,841.5 116.0,842.7 120.0,843.8 124.0,845.0 128.2,846.3 132.5,847.8 136.6,849.0 140.0,850.0 142.4,850.6 144.0,850.9 145.6,851.1 148.0,851.0 151.4,850.8 155.5,850.4 159.8,849.9 164.0,849.0 168.0,847.8 172.0,846.3 176.0,844.7 180.0,843.0 184.2,841.2 188.5,839.2 192.6,837.4 196.0,836.0 198.4,835.1 200.0,834.4 201.6,834.1 204.0,834.0 207.4,834.2 211.5,834.6 215.8,835.3 220.0,836.0 224.2,836.9 228.5,838.1 232.6,839.2 236.0,840.0 238.4,840.5 240.0,840.9 241.6,841.0 244.0,841.0 247.4,840.8 251.5,840.4 255.8,839.9 260.0,839.0 264.0,837.8 268.0,836.4 272.0,834.7 276.0,833.0 280.2,831.1 284.5,829.0 288.6,826.9 292.0,825.0 294.6,823.4 296.5,822.0 298.2,820.6 300.0,819.0 302.0,817.2 304.0,815.3 306.0,813.3 308.0,811.0 310.0,808.4 312.0,805.6 314.0,802.8 316.0,800.0 317.8,797.5 319.5,795.2 321.4,792.8 324.0,790.0 327.4,786.6 331.5,782.8 335.8,779.1 340.0,776.0 344.0,773.7 348.0,771.8 352.0,770.3 356.0,769.0 360.0,767.9 364.0,767.1 368.0,766.5 372.0,766.0 376.2,765.5 380.5,765.2 384.6,765.0 388.0,765.0 390.4,765.4 392.0,766.0 393.6,766.7 396.0,767.0 399.4,766.9 403.5,766.5 407.8,766.1 412.0,765.7 416.2,765.4 420.5,765.1 424.6,764.9 428.0,764.8 430.6,764.9 432.5,765.2 434.2,765.6 436.0,766.0 438.0,766.6 440.0,767.4 442.0,768.1 444.0,768.6 446.0,768.7 448.0,768.6 450.0,768.4 452.0,768.2 454.0,768.0 456.0,767.8 458.0,767.8 460.0,768.0 462.0,768.6 464.0,769.4 466.0,770.6 468.0,772.0 470.0,773.8 472.0,776.0 474.0,778.4 476.0,781.0 478.0,783.6 480.0,786.2 482.0,789.2 484.0,793.0 486.0,797.8 488.0,803.4 490.0,809.3 492.0,815.0 494.0,820.6 496.0,826.4 498.0,831.9 500.0,837.0 502.0,841.6 504.0,845.9 506.0,849.7 508.0,853.0 510.0,855.7 512.0,857.8 514.0,859.5 516.0,861.0 518.0,862.2 520.0,863.0 522.0,863.6 524.0,864.0 526.0,864.2 528.0,864.2 530.0,864.1 532.0,864.0 533.8,863.9 535.5,863.8 537.4,863.6 540.0,863.0 543.4,862.0 547.5,860.6 551.8,859.2 556.0,858.0 560.0,857.0 564.0,856.2 568.0,855.4 572.0,854.6 576.0,853.8 580.0,853.1 584.0,852.5 588.0,852.0 592.0,851.7 596.0,851.6 600.0,851.5 604.0,851.4 608.0,851.3 612.0,851.2 616.0,851.1 620.0,851.0 624.0,850.8 628.0,850.6 632.0,850.3 636.0,850.0 640.2,849.6 644.5,849.1 648.6,848.5 652.0,848.0 654.6,847.6 656.5,847.2 658.2,846.7 660.0,846.0 662.0,845.0 664.0,843.8 666.0,842.5 668.0,841.0 670.0,839.5 672.0,837.8 674.0,836.0 676.0,834.0 678.0,831.7 680.0,829.1 682.0,826.5 684.0,824.0 686.0,821.7 688.0,819.4 690.0,817.2 692.0,815.0 694.0,812.8 696.0,810.7 698.0,808.6 700.0,806.7 702.0,804.9 704.0,803.3 706.0,801.8 708.0,800.5 710.0,799.5 712.0,798.7 714.0,798.1 716.0,797.6 718.0,797.2 720.0,796.8 722.0,796.6 724.0,796.4 725.8,796.3 727.5,796.2 729.4,796.2 732.0,796.2 735.6,796.2 740.0,796.2 744.4,796.2 748.0,796.3 750.6,796.4 752.5,796.6 754.2,796.9 756.0,797.4 758.0,798.2 760.0,799.2 762.0,800.4 764.0,801.6 766.0,802.8 768.0,804.1 770.0,805.5 772.0,807.0 774.0,808.8 776.0,810.8 778.0,812.8 780.0,814.7 782.0,816.5 784.0,818.3 786.0,820.0 788.0,821.3 790.0,822.2 792.0,822.7 794.0,823.1 796.0,823.6 798.0,824.2 800.0,824.9 802.0,825.5 804.0,826.0 806.0,826.5 808.0,826.9 810.0,827.3 812.0,827.4 814.0,827.3 816.0,826.9 818.0,826.5 820.0,826.0 822.0,825.5 824.0,825.0 826.0,824.4 828.0,823.6 830.0,822.5 832.0,821.0 834.0,819.6 836.0,818.5 838.0,817.8 840.0,817.3 842.0,816.8 844.0,816.1 846.0,815.0 848.0,813.7 850.0,812.3 852.0,811.0 854.0,809.7 856.0,808.5 858.0,807.3 860.0,806.3 862.0,805.5 864.0,804.8 866.0,804.3 868.0,804.0 870.0,804.0 872.0,804.2 874.0,804.6 876.0,804.9 877.8,805.1 879.5,805.3 881.4,805.5 884.0,806.0 887.1,806.7 890.5,807.7 894.7,808.8 900.0,810.0 907.2,811.4 916.0,812.9 924.8,814.5 932.0,816.0 937.1,817.7 941.0,819.6 944.4,821.2 948.0,822.0 952.0,821.7 956.0,820.5 960.0,819.1 964.0,818.0 968.0,817.3 972.0,816.8 976.0,816.3 980.0,816.0 984.0,815.9 988.0,815.9 992.0,816.0 996.0,816.0 1000.0,815.9 1004.0,815.7 1008.0,815.6 1012.0,816.0 1016.2,817.0 1020.5,818.4 1024.6,819.8 1028.0,821.0 1030.6,821.6 1032.5,822.0 1034.2,822.4 1036.0,823.0 1038.0,824.0 1040.0,825.2 1042.0,826.6 1044.0,828.0 1046.0,829.4 1048.0,830.9 1050.0,832.5 1052.0,834.0 1054.0,835.5 1056.0,837.1 1058.0,838.6 1060.0,840.0 1062.0,841.2 1064.0,842.2 1066.0,843.1 1068.0,844.0 1070.0,844.8 1072.0,845.5 1074.0,846.2 1076.0,847.0 1078.0,848.2 1080.0,849.5 1082.0,850.8 1084.0,851.6 1086.0,851.9 1088.0,851.9 1090.0,851.7 1092.0,851.4 1094.0,851.0 1096.0,850.5 1098.0,850.0 1100.0,849.5 1102.0,849.1 1104.0,848.6 1106.0,848.2 1108.0,847.7 1110.0,847.2 1112.0,846.6 1114.0,846.1 1116.0,845.5 1118.0,844.9 1120.0,844.3 1122.0,843.7 1124.0,843.0 1126.0,842.3 1128.0,841.6 1130.0,840.8 1132.0,840.0 1134.0,839.0 1136.0,838.0 1138.0,837.0 1140.0,836.0 1142.0,835.2 1144.0,834.4 1146.0,833.7 1148.0,833.0 1150.0,832.2 1152.0,831.5 1154.0,830.7 1156.0,830.0 1158.2,829.3 1160.5,828.7 1162.6,828.1 1164.0,827.7" stroke="#ff0000" stroke-width="2.6" fill="none" stroke-linejoin="round"/>
</g>
<text x="7" y="762.3" font-size="13.5" fill="#000" font-weight="400" text-anchor="start" textLength="167" lengthAdjust="spacingAndGlyphs" >MACD(5,34,5) 2.436 1.347</text>
<g clip-path="url(#crsi)">
<line x1="4" y1="920.5" x2="1840" y2="920.5" stroke="#000090" stroke-width="1" stroke-dasharray="3 3" shape-rendering="crispEdges"/>
<line x1="4" y1="943.5" x2="1840" y2="943.5" stroke="#0000ff" stroke-width="1" stroke-dasharray="3 3" shape-rendering="crispEdges"/>
<line x1="4" y1="966.5" x2="1840" y2="966.5" stroke="#000090" stroke-width="1" stroke-dasharray="3 3" shape-rendering="crispEdges"/>
<polyline points="5.0,931.9 15.0,932.0 20.0,933.0 28.0,937.5 36.0,937.5 44.0,946.0 52.0,946.5 60.0,946.5" stroke="#008000" stroke-width="3" fill="none" stroke-linejoin="round"/>
<polyline points="60.0,946.5 68.0,954.0 76.0,962.0 84.0,945.0 92.0,953.0 100.0,953.0 108.0,953.0 116.0,961.0 124.0,959.0 132.0,954.0 140.0,951.0 148.0,951.0 156.0,951.0 164.0,943.0 172.0,940.0 180.0,940.0 188.0,941.0 196.0,943.0 204.0,950.0 212.0,950.0 220.0,958.0 228.0,953.0 236.0,945.0 244.0,945.0 252.0,939.5 260.0,939.0 268.0,944.6 276.0,937.0 282.0,933.0" stroke="#ff0000" stroke-width="3" fill="none" stroke-linejoin="round"/>
<polyline points="282.0,933.0 292.0,928.0 300.0,922.0 308.0,916.5 316.0,916.5 324.0,916.0 332.0,915.0 340.0,914.0 348.0,908.0 356.0,908.0 364.0,918.0 372.0,918.0 380.0,915.0 388.0,911.0 396.0,910.0 404.0,914.6 412.0,914.6 420.0,914.6 428.0,918.8 436.0,918.8 444.0,915.0 452.0,905.0 460.0,930.0 464.0,937.0 468.0,944.0 470.0,949.6" stroke="#008000" stroke-width="3" fill="none" stroke-linejoin="round"/>
<polyline points="470.0,949.6 476.0,953.8 484.0,960.0 492.0,958.6 500.0,958.0 508.0,950.0 516.0,946.0 524.0,950.7 532.0,950.7 540.0,948.0 548.0,947.0 556.0,948.6 564.0,946.6 572.0,950.7 580.0,951.7 588.0,952.8 596.0,952.8 604.0,946.6 612.0,946.6 620.0,946.6 628.0,952.8 636.0,952.8 644.0,951.5 652.0,946.0 658.0,939.0" stroke="#ff0000" stroke-width="3" fill="none" stroke-linejoin="round"/>
<polyline points="658.0,939.0 668.0,932.0 676.0,926.0 684.0,928.0 692.0,928.0 700.0,929.8 708.0,929.8 716.0,928.8 724.0,927.0 732.0,927.0 740.0,928.0 748.0,928.0 756.0,942.0 764.0,950.0 772.0,946.6 780.0,944.0 788.0,945.0 796.0,942.3 804.0,939.6 812.0,949.0 820.0,934.6 828.0,934.0 836.0,927.0 844.0,936.5 852.0,933.4 860.0,934.6 868.0,939.6 876.0,939.6 884.0,939.6 892.0,939.6 896.0,938.6 904.0,941.0 912.0,942.0 920.0,942.0 928.0,942.0 936.0,946.0 944.0,941.7 952.0,941.0 960.0,932.0 968.0,931.0 976.0,938.0 984.0,938.6 990.0,943.6 996.0,933.6 1004.0,936.7 1012.0,944.0 1020.0,952.8 1028.0,952.8 1036.0,950.0 1044.0,951.0" stroke="#008000" stroke-width="3" fill="none" stroke-linejoin="round"/>
<polyline points="1044.0,951.0 1052.0,959.0 1060.0,954.0 1068.0,952.0 1076.0,951.0 1084.0,952.0 1092.0,945.0 1100.0,943.0 1108.0,943.0 1116.0,941.0 1124.0,938.0 1132.0,940.0 1140.0,939.0 1148.0,939.0 1156.0,936.0 1164.0,939.0" stroke="#ff0000" stroke-width="3" fill="none" stroke-linejoin="round"/>
</g>
<text x="7" y="903.8" font-size="13.5" fill="#000" font-weight="400" text-anchor="start" textLength="87" lengthAdjust="spacingAndGlyphs" >RSI(14) 53.39</text>
<rect x="4" y="0" width="1837" height="1" fill="#000" />
<rect x="4" y="742" width="1837" height="1" fill="#000" />
<rect x="4" y="0" width="1" height="743" fill="#000" />
<rect x="1840" y="0" width="1" height="743" fill="#000" />
<rect x="4" y="744" width="1837" height="1" fill="#000" />
<rect x="4" y="884" width="1837" height="1" fill="#000" />
<rect x="4" y="744" width="1" height="141" fill="#000" />
<rect x="1840" y="744" width="1" height="141" fill="#000" />
<rect x="4" y="886" width="1837" height="1" fill="#000" />
<rect x="4" y="1000" width="1837" height="1" fill="#000" />
<rect x="4" y="886" width="1" height="115" fill="#000" />
<rect x="1840" y="886" width="1" height="115" fill="#000" />
<rect x="1841" y="36" width="4" height="1" fill="#000" />
<text x="1847" y="41" font-size="13.5" fill="#000" font-weight="400" text-anchor="start" textLength="51" lengthAdjust="spacingAndGlyphs" >2427.65</text>
<rect x="1841" y="100" width="4" height="1" fill="#000" />
<text x="1847" y="105" font-size="13.5" fill="#000" font-weight="400" text-anchor="start" textLength="51" lengthAdjust="spacingAndGlyphs" >2417.70</text>
<rect x="1841" y="165" width="4" height="1" fill="#000" />
<text x="1847" y="170" font-size="13.5" fill="#000" font-weight="400" text-anchor="start" textLength="51" lengthAdjust="spacingAndGlyphs" >2407.75</text>
<rect x="1841" y="229" width="4" height="1" fill="#000" />
<text x="1847" y="234" font-size="13.5" fill="#000" font-weight="400" text-anchor="start" textLength="51" lengthAdjust="spacingAndGlyphs" >2397.80</text>
<rect x="1841" y="293" width="4" height="1" fill="#000" />
<text x="1847" y="298" font-size="13.5" fill="#000" font-weight="400" text-anchor="start" textLength="51" lengthAdjust="spacingAndGlyphs" >2387.85</text>
<rect x="1841" y="357" width="4" height="1" fill="#000" />
<text x="1847" y="362" font-size="13.5" fill="#000" font-weight="400" text-anchor="start" textLength="51" lengthAdjust="spacingAndGlyphs" >2377.90</text>
<rect x="1841" y="421" width="4" height="1" fill="#000" />
<text x="1847" y="426" font-size="13.5" fill="#000" font-weight="400" text-anchor="start" textLength="51" lengthAdjust="spacingAndGlyphs" >2367.95</text>
<rect x="1841" y="485" width="4" height="1" fill="#000" />
<text x="1847" y="490" font-size="13.5" fill="#000" font-weight="400" text-anchor="start" textLength="51" lengthAdjust="spacingAndGlyphs" >2358.00</text>
<rect x="1841" y="550" width="4" height="1" fill="#000" />
<text x="1847" y="555" font-size="13.5" fill="#000" font-weight="400" text-anchor="start" textLength="51" lengthAdjust="spacingAndGlyphs" >2348.05</text>
<rect x="1841" y="614" width="4" height="1" fill="#000" />
<text x="1847" y="619" font-size="13.5" fill="#000" font-weight="400" text-anchor="start" textLength="51" lengthAdjust="spacingAndGlyphs" >2338.10</text>
<rect x="1841" y="678" width="4" height="1" fill="#000" />
<text x="1847" y="683" font-size="13.5" fill="#000" font-weight="400" text-anchor="start" textLength="51" lengthAdjust="spacingAndGlyphs" >2328.15</text>
<rect x="1843" y="329" width="60" height="3" fill="#ef5350" />
<rect x="1843" y="332" width="60" height="17" fill="#26a69a" />
<text x="1848" y="345" font-size="13.5" fill="#fff" font-weight="400" text-anchor="start" textLength="51" lengthAdjust="spacingAndGlyphs" >2380.47</text>
<rect x="1841" y="745" width="4" height="1" fill="#000" />
<text x="1847" y="758" font-size="13.5" fill="#000" font-weight="400" text-anchor="start" textLength="41" lengthAdjust="spacingAndGlyphs" >35.535</text>
<rect x="1841" y="830" width="4" height="1" fill="#000" />
<text x="1847" y="835.5" font-size="13.5" fill="#000" font-weight="400" text-anchor="start" textLength="35" lengthAdjust="spacingAndGlyphs" >0.000</text>
<rect x="1841" y="876" width="4" height="1" fill="#000" />
<text x="1846" y="881" font-size="13.5" fill="#000" font-weight="400" text-anchor="start" textLength="47" lengthAdjust="spacingAndGlyphs" >-22.531</text>
<text x="1847" y="900" font-size="13.5" fill="#000" font-weight="400" text-anchor="start" textLength="43" lengthAdjust="spacingAndGlyphs" >100.00</text>
<text x="1847" y="925" font-size="13.5" fill="#000" font-weight="400" text-anchor="start" textLength="35" lengthAdjust="spacingAndGlyphs" >70.00</text>
<text x="1847" y="948" font-size="13.5" fill="#000" font-weight="400" text-anchor="start" textLength="35" lengthAdjust="spacingAndGlyphs" >50.00</text>
<text x="1847" y="972" font-size="13.5" fill="#000" font-weight="400" text-anchor="start" textLength="35" lengthAdjust="spacingAndGlyphs" >30.00</text>
<text x="1847" y="997" font-size="13.5" fill="#000" font-weight="400" text-anchor="start" textLength="28" lengthAdjust="spacingAndGlyphs" >0.00</text>
<rect x="1841" y="920" width="4" height="1" fill="#000" />
<rect x="1841" y="943" width="4" height="1" fill="#000" />
<rect x="1841" y="967" width="4" height="1" fill="#000" />
<rect x="1841" y="886" width="4" height="1" fill="#000" />
<rect x="1841" y="999" width="4" height="1" fill="#000" />
<rect x="4" y="1001" width="1" height="4" fill="#000" />
<text x="5.5" y="1017.5" font-size="13.5" fill="#000" font-weight="400" text-anchor="start" textLength="74" lengthAdjust="spacingAndGlyphs" >10 Apr 2024</text>
<rect x="132" y="1001" width="1" height="4" fill="#000" />
<text x="133.5" y="1017.5" font-size="13.5" fill="#000" font-weight="400" text-anchor="start" textLength="80" lengthAdjust="spacingAndGlyphs" >10 Apr 23:00</text>
<rect x="260" y="1001" width="1" height="4" fill="#000" />
<text x="261.5" y="1017.5" font-size="13.5" fill="#000" font-weight="400" text-anchor="start" textLength="80" lengthAdjust="spacingAndGlyphs" >11 Apr 16:00</text>
<rect x="388" y="1001" width="1" height="4" fill="#000" />
<text x="389.5" y="1017.5" font-size="13.5" fill="#000" font-weight="400" text-anchor="start" textLength="80" lengthAdjust="spacingAndGlyphs" >12 Apr 09:00</text>
<rect x="516" y="1001" width="1" height="4" fill="#000" />
<text x="517.5" y="1017.5" font-size="13.5" fill="#000" font-weight="400" text-anchor="start" textLength="80" lengthAdjust="spacingAndGlyphs" >15 Apr 02:00</text>
<rect x="644" y="1001" width="1" height="4" fill="#000" />
<text x="645.5" y="1017.5" font-size="13.5" fill="#000" font-weight="400" text-anchor="start" textLength="80" lengthAdjust="spacingAndGlyphs" >15 Apr 18:00</text>
<rect x="772" y="1001" width="1" height="4" fill="#000" />
<text x="773.5" y="1017.5" font-size="13.5" fill="#000" font-weight="400" text-anchor="start" textLength="80" lengthAdjust="spacingAndGlyphs" >16 Apr 11:00</text>
<rect x="900" y="1001" width="1" height="4" fill="#000" />
<text x="901.5" y="1017.5" font-size="13.5" fill="#000" font-weight="400" text-anchor="start" textLength="80" lengthAdjust="spacingAndGlyphs" >17 Apr 04:00</text>
<rect x="1028" y="1001" width="1" height="4" fill="#000" />
<text x="1029.5" y="1017.5" font-size="13.5" fill="#000" font-weight="400" text-anchor="start" textLength="80" lengthAdjust="spacingAndGlyphs" >17 Apr 20:00</text>
<rect x="1156" y="1001" width="1" height="4" fill="#000" />
<text x="1157.5" y="1017.5" font-size="13.5" fill="#000" font-weight="400" text-anchor="start" textLength="80" lengthAdjust="spacingAndGlyphs" >18 Apr 13:00</text>
<text x="73" y="21.6" font-size="13.5" fill="#000" font-weight="400" text-anchor="start" textLength="68" lengthAdjust="spacingAndGlyphs" >XAUUSD.b,</text>
<text x="144.6" y="21.6" font-size="13.5" fill="#000" font-weight="400" text-anchor="start" textLength="20.4" lengthAdjust="spacingAndGlyphs" >H1:</text>
<text x="175" y="21.6" font-size="13.5" fill="#000" font-weight="400" text-anchor="start" textLength="146.4" lengthAdjust="spacingAndGlyphs" >Gold Ounce vs US Dollar</text>
<text x="335.7" y="21.6" font-size="13.5" fill="#000" font-weight="400" text-anchor="start" textLength="218.2" lengthAdjust="spacingAndGlyphs" >2382.91 2383.45 2378.86 2380.47</text>
<g fill="none" stroke-width="1.4" stroke-linejoin="round"><rect x="15" y="12.6" width="8" height="8.2" fill="#ffe6df" stroke="none"/><rect x="24" y="12.6" width="8" height="8.2" fill="#cfe8ff" stroke="none"/><path d="M24 8.9 H14.6 Q13.3 8.9 13.3 10.2 V22.9 Q13.3 24.2 14.6 24.2 H24" stroke="#e03c31"/><path d="M24 8.9 H32.9 Q34.2 8.9 34.2 10.2 V22.9 Q34.2 24.2 32.9 24.2 H24" stroke="#0a5ca8"/><path d="M15.6 12.2 H22.4 M15.6 16.6 H22.4 M15.6 21.1 H22.4" stroke="#e03c31" stroke-width="1.5" stroke-linecap="round"/><path d="M25 12.2 H31.6 M25 16.6 H31.6 M25 21.1 H31.6" stroke="#0a5ca8" stroke-width="1.5" stroke-linecap="round"/><path d="M45.3 10.1 Q45.3 8.9 46.5 8.9 H48.5 Q49.7 8.9 49.7 10.1 V14.1 Q49.7 15.1 50.7 15.1 H53 Q54.2 15.1 54.2 16.3 V23 Q54.2 24.2 53 24.2 H46.5 Q45.3 24.2 45.3 23 Z" fill="#ffe0d6" stroke="#e03c31"/><path d="M66.2 10.1 Q66.2 8.9 65 8.9 H63 Q61.8 8.9 61.8 10.1 V14.1 Q61.8 15.1 60.8 15.1 H58.5 Q57.3 15.1 57.3 16.3 V23 Q57.3 24.2 58.5 24.2 H65 Q66.2 24.2 66.2 23 Z" fill="#c4e2ff" stroke="#0a5ca8"/><rect x="52.8" y="9.4" width="6.4" height="2.8" rx="1.2" stroke="#a8a8a8" stroke-width="1.2"/></g></svg></body></html>
